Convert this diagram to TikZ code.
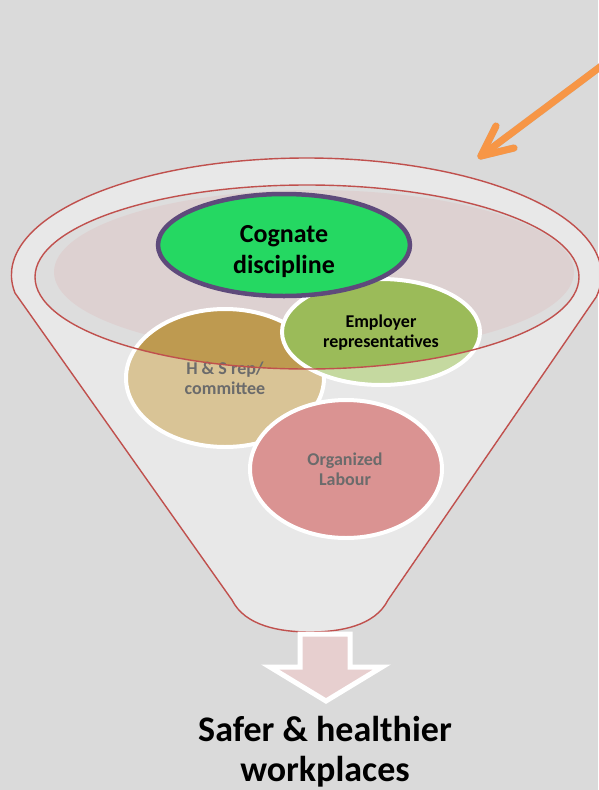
\documentclass[tikz,border=0pt]{standalone}
\usepackage{fontspec}
\setmainfont{Carlito}
\usetikzlibrary{calc}
\definecolor{bg}{HTML}{DADADA}
\definecolor{funnelfill}{HTML}{E8E8E8}
\definecolor{funnelline}{HTML}{C0504D}
\definecolor{innerfill}{HTML}{DDDDDD}
\definecolor{pinkfill}{HTML}{DDD1D1}
\definecolor{cogfill}{HTML}{25D862}
\definecolor{cogline}{HTML}{5E4A7B}
\definecolor{empdark}{HTML}{9BBB59}
\definecolor{emplight}{HTML}{C5D9A0}
\definecolor{hsdark}{HTML}{BE9A50}
\definecolor{hslight}{HTML}{D9C496}
\definecolor{orgfill}{HTML}{DA9392}
\definecolor{graytext}{HTML}{6B6B6B}
\definecolor{arrowfill}{HTML}{E7CFCF}
\definecolor{orangec}{HTML}{F79646}
\tikzset{
  redline/.style={draw=funnelline, line width=1.4pt},
  whiteborder/.style={draw=white, line width=4pt},
  smalltext/.style={font=\bfseries\fontsize{18}{20}\selectfont, align=center},
}
\begin{document}
\begin{tikzpicture}[x=1pt,y=-1pt]
\fill[bg] (0,0) rectangle (598,790);
\useasboundingbox (0,0) rectangle (598,790);
% funnel body
\coordinate (lc) at (15,293);
\coordinate (rc) at (597,297);
\coordinate (lb) at (232,600);
\coordinate (rb) at (388,600);
\path[fill=funnelfill, redline] (lc) arc[start angle=188.85, end angle=-10.8, x radius=295pt, y radius=117pt]
  -- (rb) .. controls (375,626) and (340,632) .. (310,632)
  .. controls (280,632) and (245,626) .. (lb) -- cycle;
% inner ellipse fill
\fill[innerfill] (307,277) ellipse[x radius=272pt, y radius=92pt];
\fill[pinkfill] (314,272) ellipse[x radius=260pt, y radius=82pt];
% H&S
\fill[hslight] (225,378) ellipse[x radius=99pt, y radius=69pt];
\begin{scope}
\clip (307,277) ellipse[x radius=272pt, y radius=92pt];
\fill[hsdark] (225,378) ellipse[x radius=99pt, y radius=69pt];
\end{scope}
\draw[whiteborder] (225,378) ellipse[x radius=99pt, y radius=69pt];
% Employer
\fill[emplight] (381,332) ellipse[x radius=99pt, y radius=53pt];
\begin{scope}
\clip (307,277) ellipse[x radius=272pt, y radius=92pt];
\fill[empdark] (381,332) ellipse[x radius=99pt, y radius=53pt];
\end{scope}
\draw[whiteborder] (381,332) ellipse[x radius=99pt, y radius=53pt];
% Organized
\path[fill=orgfill, whiteborder] (346,469) ellipse[x radius=96pt, y radius=69pt];
% Cognate
\path[fill=cogfill, draw=cogline, line width=4.5pt] (284,245) ellipse[x radius=126pt, y radius=51pt];
% texts
\node[font=\bfseries\fontsize{26}{31}\selectfont, align=center] (cog) at (284,252) {Cognate\\discipline};
\node[smalltext] (emp) at (381,333) {Employer\\representatives};
\node[smalltext, text=graytext] (hs) at (225,378) {H \& S rep/\\committee};
\node[smalltext, text=graytext] (org) at (345,469) {Organized\\Labour};
% inner ellipse outline on top
\draw[redline] (307,277) ellipse[x radius=272pt, y radius=92pt];
% down arrow
\path[fill=arrowfill, draw=white, line width=5pt, line join=miter]
  (300,634) -- (350,634) -- (350,667) -- (382,667) -- (326,701) -- (270,667) -- (300,667) -- cycle;
\node[font=\bfseries\fontsize{36}{40}\selectfont, align=center] (res) at (325,752) {Safer \& healthier\\workplaces};
% orange arrow
\coordinate (tip) at (481,156);
\coordinate (tail) at (604,64);
\coordinate (armA) at (496,126);
\coordinate (armB) at (514,148);
\begin{scope}[shift={(2,3)}]
\draw[black!35, opacity=0.6, line width=7pt, line cap=round, line join=round] (tail) -- (tip);
\draw[black!35, opacity=0.6, line width=7pt, line cap=round, line join=round] (armA) -- (tip) -- (armB);
\end{scope}
\draw[orangec, line width=7pt, line cap=round, line join=round] (tail) -- (tip);
\draw[orangec, line width=7pt, line cap=round, line join=round] (armA) -- (tip) -- (armB);
\end{tikzpicture}
\end{document}
